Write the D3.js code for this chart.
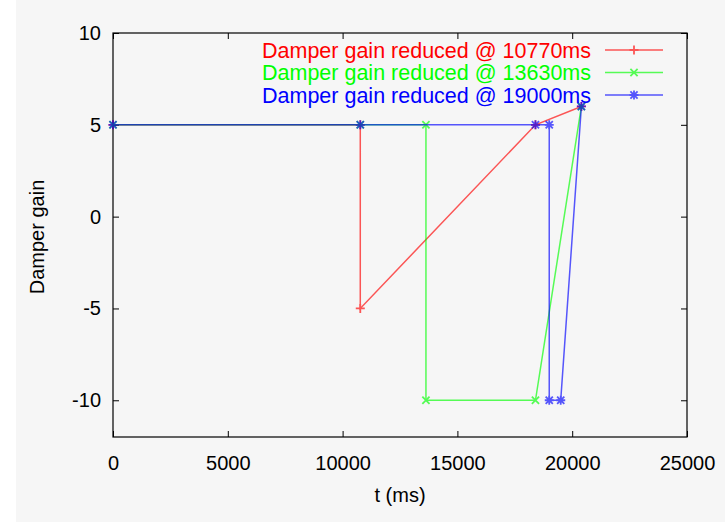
<!DOCTYPE html>
<html>
<head>
<meta charset="utf-8">
<style>
  body { margin: 0; background: #fff; }
  text { font-family: "Liberation Sans", Arial, sans-serif; }
</style>
</head>
<body>
<svg width="725" height="522"></svg>
<script src="https://d3js.org/d3.v7.min.js"></script>
<script>

// data (t in ms, gain)
var redT   = [0, 10770, 10770, 18400, 20400];
var redG   = [5, 5, -5, 5, 6];
var greenT = [0, 10770, 13630, 13630, 18400, 20400];
var greenG = [5, 5, 5, -10, -10, 6];
var blueT  = [0, 10770, 18400, 19000, 19000, 19500, 20400];
var blueG  = [5, 5, 5, 5, -10, -10, 6];

var legendLabels = ["Damper gain reduced @ 10770ms",
                    "Damper gain reduced @ 13630ms",
                    "Damper gain reduced @ 19000ms"];
var xTicks = [0, 5000, 10000, 15000, 20000, 25000];
var yTicks = [-10, -5, 0, 5, 10];

function zip(ts, gs){
  return ts.map(function(t, i){ return {t: t, g: gs[i]}; });
}

var series = [
  {name: legendLabels[0], color: "#ff0000", pt: "plus",  data: zip(redT, redG)},
  {name: legendLabels[1], color: "#00ff00", pt: "cross", data: zip(greenT, greenG)},
  {name: legendLabels[2], color: "#0000ff", pt: "star",  data: zip(blueT, blueG)}
];

var svg = d3.select("svg");
svg.append("rect").attr("x", 16).attr("y", 0).attr("width", 709).attr("height", 522)
   .attr("fill", "#f6f6f6");

var m = {left: 113, top: 33, right: 687, bottom: 437};
var x = d3.scaleLinear().domain([0, 25000]).range([m.left, m.right]);
var y = d3.scaleLinear().domain([-12, 10]).range([m.bottom, m.top]);

function markerPath(type, s){
  var p = "";
  if (type == "plus" || type == "star")
    p += "M" + (-s) + ",0H" + s + "M0," + (-s) + "V" + s;
  if (type == "cross" || type == "star")
    p += "M" + (-s*0.8) + "," + (-s*0.8) + "L" + (s*0.8) + "," + (s*0.8) +
         "M" + (-s*0.8) + "," + (s*0.8) + "L" + (s*0.8) + "," + (-s*0.8);
  return p;
}

// axes, inward ticks, mirrored on top/right
var fontSize = 20;
var plain = function(d){ return String(d); };
var gx = svg.append("g").attr("transform", "translate(0," + m.bottom + ")")
  .call(d3.axisBottom(x).tickValues(xTicks).tickSizeInner(-6).tickSizeOuter(0).tickPadding(19).tickFormat(plain));
var gy = svg.append("g").attr("transform", "translate(" + m.left + ",0)")
  .call(d3.axisLeft(y).tickValues(yTicks).tickSizeInner(-6).tickSizeOuter(0).tickPadding(12).tickFormat(plain));
var gt = svg.append("g").attr("transform", "translate(0," + m.top + ")")
  .call(d3.axisTop(x).tickValues(xTicks).tickSizeInner(-6).tickSizeOuter(0).tickFormat(""));
var gr = svg.append("g").attr("transform", "translate(" + m.right + ",0)")
  .call(d3.axisRight(y).tickValues(yTicks).tickSizeInner(-6).tickSizeOuter(0).tickFormat(""));

[gx, gy, gt, gr].forEach(function(g){
  g.select(".domain").remove();
  g.selectAll("line").attr("stroke", "#000");
  g.selectAll("text").attr("font-size", fontSize).attr("fill", "#000")
    .style("font-family", "'Liberation Sans', Arial, sans-serif");
});

svg.append("rect")
  .attr("x", m.left).attr("y", m.top)
  .attr("width", m.right - m.left).attr("height", m.bottom - m.top)
  .attr("fill", "none").attr("stroke", "#000").attr("stroke-width", 1.2);

svg.append("text").attr("x", (m.left + m.right) / 2).attr("y", 502)
  .attr("text-anchor", "middle").attr("font-size", fontSize).text("t (ms)");
svg.append("text").attr("transform", "translate(44," + ((m.top + m.bottom) / 2 + 2) + ") rotate(-90)")
  .attr("text-anchor", "middle").attr("font-size", fontSize).text("Damper gain");

// series
var line = d3.line().x(function(d){ return x(d.t); }).y(function(d){ return y(d.g); });

series.forEach(function(s, i){
  var g = svg.append("g").attr("opacity", 0.65);
  g.append("path").datum(s.data)
    .attr("d", line).attr("fill", "none")
    .attr("stroke", s.color).attr("stroke-width", 1.5);
  g.selectAll(".pt").data(s.data).enter().append("path")
    .attr("class", "pt")
    .attr("transform", function(d){ return "translate(" + x(d.t) + "," + y(d.g) + ")"; })
    .attr("d", markerPath(s.pt, 4.5))
    .attr("fill", "none").attr("stroke", s.color).attr("stroke-width", 1.8);

  // legend entry
  var ly = 50 + i * 22.5;
  svg.append("text").attr("x", 591).attr("y", ly).attr("dy", "0.35em")
    .attr("text-anchor", "end").attr("font-size", 21.5).attr("fill", s.color)
    .text(s.name);
  var lg = svg.append("g").attr("opacity", 0.65);
  lg.append("line").attr("x1", 605).attr("x2", 663).attr("y1", ly).attr("y2", ly)
    .attr("stroke", s.color).attr("stroke-width", 1.5);
  lg.append("path").attr("transform", "translate(634," + ly + ")")
    .attr("d", markerPath(s.pt, 4.5)).attr("fill", "none")
    .attr("stroke", s.color).attr("stroke-width", 1.8);
});

</script>
</body>
</html>
